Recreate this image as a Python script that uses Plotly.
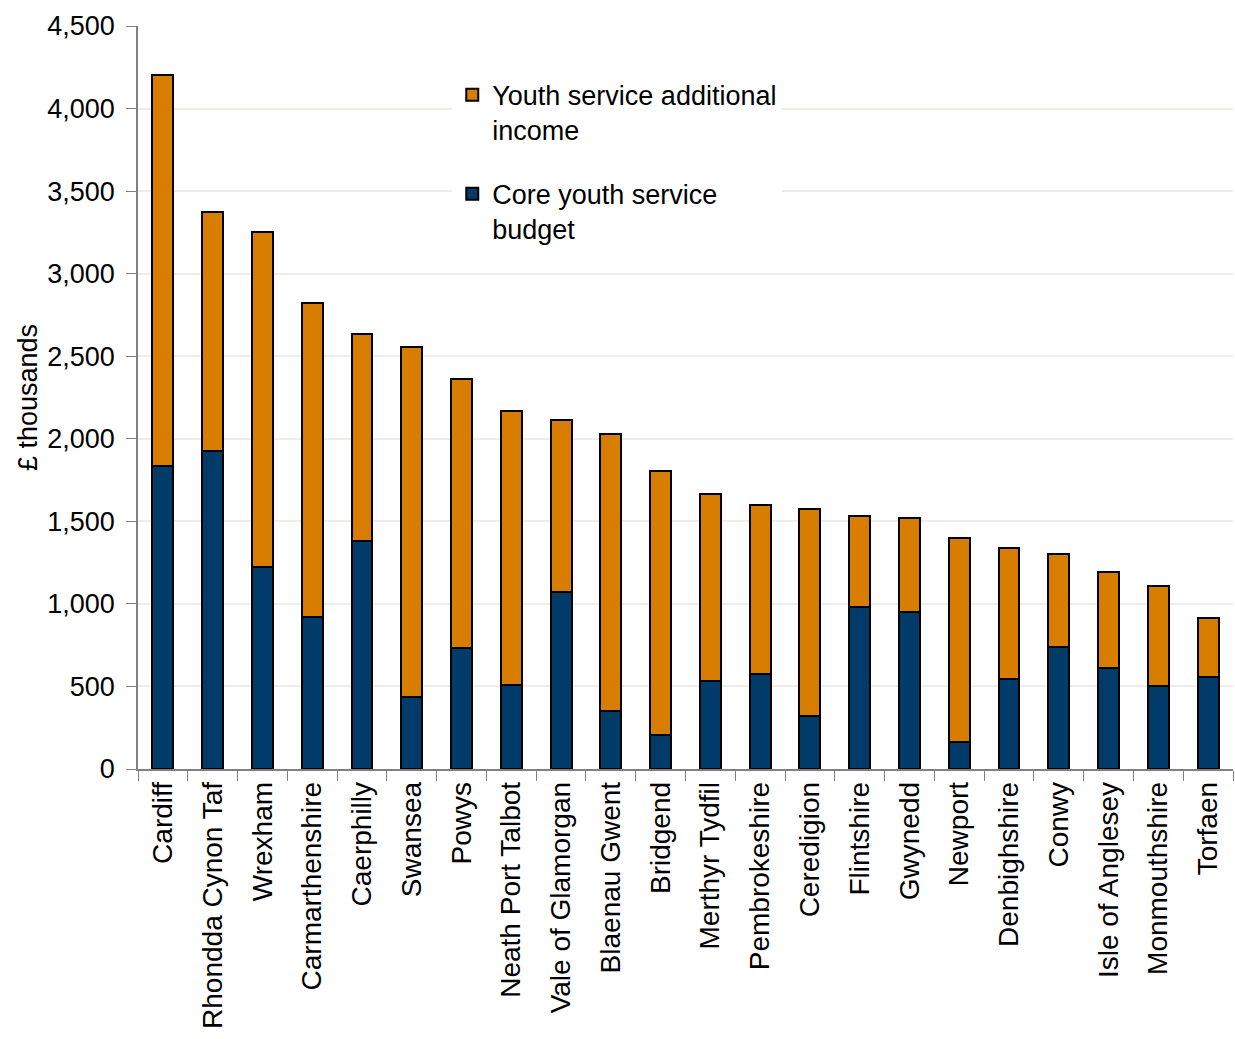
import plotly.graph_objects as go

authorities = ["Cardiff", "Rhondda Cynon Taf", "Wrexham", "Carmarthenshire", "Caerphilly",
               "Swansea", "Powys", "Neath Port Talbot", "Vale of Glamorgan", "Blaenau Gwent",
               "Bridgend", "Merthyr Tydfil", "Pembrokeshire", "Ceredigion", "Flintshire",
               "Gwynedd", "Newport", "Denbighshire", "Conwy", "Isle of Anglesey",
               "Monmouthshire", "Torfaen"]
totals = [4203, 3373, 3252, 2822, 2635, 2556, 2362, 2168, 2114, 2029,
          1805, 1666, 1599, 1575, 1532, 1520, 1399, 1338, 1302, 1193, 1108, 915]
core_budget = [1835, 1926, 1223, 921, 1381, 436, 733, 509, 1072, 351,
               206, 533, 575, 321, 981, 951, 164, 545, 739, 612, 503, 557]
additional_income = [t - c for t, c in zip(totals, core_budget)]

fig = go.Figure()
fig.add_trace(go.Bar(x=authorities, y=core_budget, name="Core youth service<br>budget",
                     legendgroup="core", legendrank=2,
                     marker=dict(color="#003b6a", line=dict(color="#000000", width=2))))
fig.add_trace(go.Bar(x=authorities, y=additional_income, name="Youth service additional<br>income",
                     legendgroup="add", legendrank=1,
                     marker=dict(color="#d77d00", line=dict(color="#000000", width=2))))

fig.update_layout(
    barmode="stack",
    bargap=0.58,
    width=1235, height=1039,
    margin=dict(l=138, r=2, t=26, b=270),
    paper_bgcolor="white", plot_bgcolor="white",
    font=dict(family="Liberation Sans, Arial, sans-serif", size=26, color="#000000"),
    legend=dict(x=0.287, y=0.94, xanchor="left", yanchor="top",
                traceorder="grouped", tracegroupgap=26, valign="top",
                bgcolor="white", font=dict(size=27), itemwidth=30),
    showlegend=True,
)
fig.update_xaxes(type="category", tickangle=-90, tickson="boundaries", ticks="outside",
                 ticklen=10, tickcolor="#808080", showline=True, linecolor="#808080",
                 linewidth=1.5, tickfont=dict(size=28))
fig.update_yaxes(range=[0, 4500], dtick=500, tickformat=",", ticks="outside", ticklen=10,
                 tickcolor="#808080", showline=True, linecolor="#808080", linewidth=1.5,
                 showgrid=True, gridcolor="#efeee6", gridwidth=1.5,
                 ticklabelstandoff=6,
                 title=dict(text="£ thousands", font=dict(size=27), standoff=2),
                 tickfont=dict(size=27))

fig.write_html("out.html")
